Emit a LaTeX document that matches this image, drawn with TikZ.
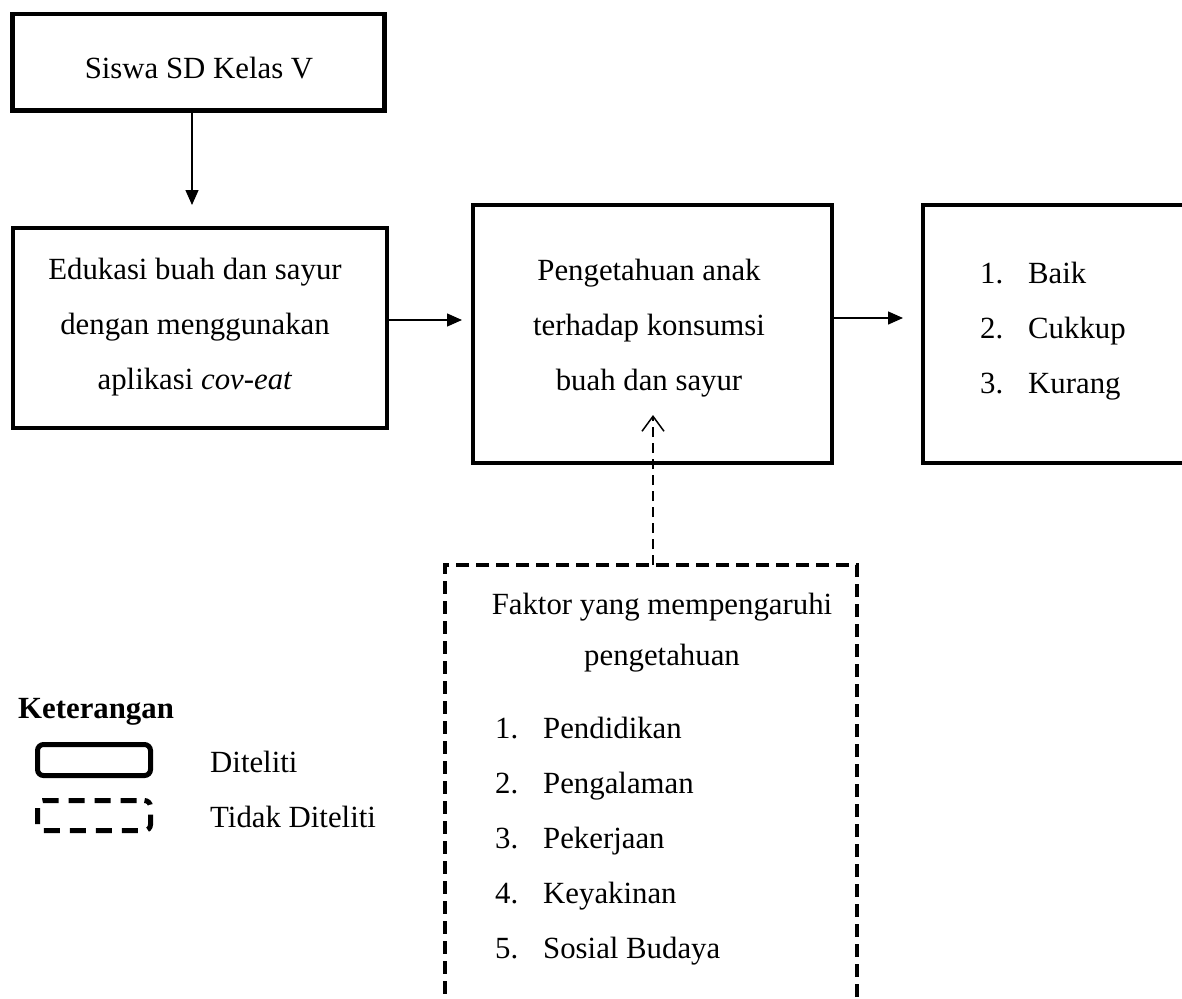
\documentclass[tikz,border=0pt]{standalone}
\usepackage{fontspec}
\setmainfont{Liberation Serif}
\usetikzlibrary{arrows.meta}
\begin{document}
\begin{tikzpicture}[x=1pt,y=-1pt,
  font=\fontsize{30.8}{36}\selectfont,
  solidbox/.style={draw, line width=4.5pt, inner sep=0pt, outer sep=0pt},
  dashbox/.style={draw, line width=4.5pt, inner sep=0pt, outer sep=0pt, dash pattern=on 13pt off 7pt},
  txt/.style={inner sep=0pt, anchor=base},
  item/.style={inner sep=0pt, anchor=base west},
  arr/.style={line width=1.4pt, -{Triangle[length=15pt,width=13pt]}},
  darr/.style={line width=1.5pt, dash pattern=on 10pt off 6pt, -{Straight Barb[length=15pt,width=22pt,line width=1.5pt]}},
]
\clip (0,0) rectangle (1182,998);
\fill[white] (0,0) rectangle (1182,998);

% boxes
\node[solidbox, minimum width=372pt, minimum height=96.5pt] (b1) at (198.5,62.25) {};
\node[solidbox, minimum width=374pt, minimum height=200pt] (b2) at (200,328) {};
\node[solidbox, minimum width=359pt, minimum height=258pt] (b3) at (652.5,334) {};
\node[solidbox, minimum width=270pt, minimum height=258pt] (b4) at (1058,334) {};
\node[dashbox, minimum width=412pt, minimum height=440pt] (b5) at (651,785) {};

% texts
\node[txt] (t1) at (199,78) {Siswa SD Kelas V};
\node[txt] (t2a) at (195,279) {Edukasi buah dan sayur};
\node[txt] (t2b) at (195,334) {dengan menggunakan};
\node[txt] (t2c) at (195,389) {aplikasi \textit{cov-eat}};
\node[txt] (t3a) at (649,280) {Pengetahuan anak};
\node[txt] (t3b) at (649,335) {terhadap konsumsi};
\node[txt] (t3c) at (649,390) {buah dan sayur};
\node[item] (t4a) at (980,283) {\makebox[48pt][l]{1.}Baik};
\node[item] (t4b) at (980,338) {\makebox[48pt][l]{2.}Cukkup};
\node[item] (t4c) at (980,393) {\makebox[48pt][l]{3.}Kurang};
\node[txt] (t5a) at (662,614) {Faktor yang mempengaruhi};
\node[txt] (t5b) at (662,665) {pengetahuan};
\node[item] (t5c) at (495,738) {\makebox[48pt][l]{1.}Pendidikan};
\node[item] (t5d) at (495,793) {\makebox[48pt][l]{2.}Pengalaman};
\node[item] (t5e) at (495,848) {\makebox[48pt][l]{3.}Pekerjaan};
\node[item] (t5f) at (495,903) {\makebox[48pt][l]{4.}Keyakinan};
\node[item] (t5g) at (495,958) {\makebox[48pt][l]{5.}Sosial Budaya};

% connectors
\draw[arr] ([xshift=-6.5pt]b1.south) -- ([xshift=-6.5pt,yshift=23pt]b1.south |- b2.north);
\draw[arr] ([yshift=8pt]b2.east) -- ([yshift=8pt,xshift=-11pt]b2.east -| b3.west);
\draw[arr] ([yshift=16pt]b3.east) -- ([yshift=16pt,xshift=-20pt]b3.east -| b4.west);
\draw[darr] ([xshift=2pt]b5.north) -- ([xshift=2pt,yshift=48pt]b5.north |- b3.south);

% legend
\node[item, font=\fontsize{30.8}{36}\selectfont\bfseries] (kt) at (18,718) {Keterangan};
\node[draw, line width=5pt, rounded corners=6pt, minimum width=113pt, minimum height=31pt, inner sep=0pt] (l1) at (94,760) {};
\node[draw, line width=5pt, rounded corners=6pt, minimum width=113pt, minimum height=30pt, inner sep=0pt, dash pattern=on 16pt off 10pt, dash phase=-8pt] (l2) at (94,815.5) {};
\node[item] (lt1) at (210,772) {Diteliti};
\node[item] (lt2) at (210,827) {Tidak Diteliti};
\end{tikzpicture}
\end{document}
